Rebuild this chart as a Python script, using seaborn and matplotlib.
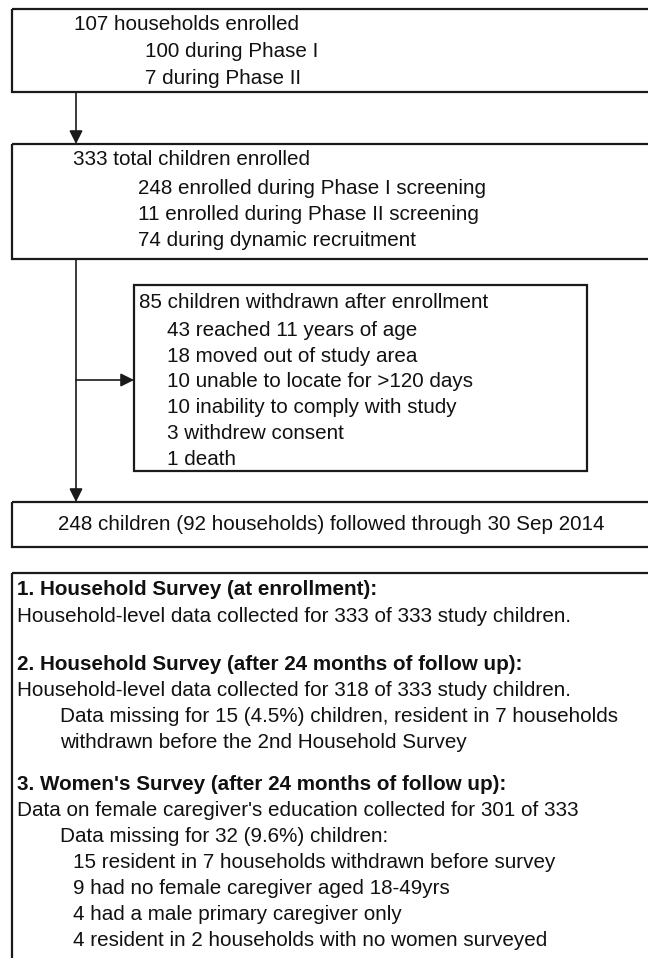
import matplotlib
matplotlib.use('Agg')
import matplotlib.pyplot as plt
from matplotlib.patches import Rectangle
import seaborn as sns

# 흐름도 텍스트 데이터
households_title = "107 households enrolled"
households_phases = ["100 during Phase I", "7 during Phase II"]

children_title = "333 total children enrolled"
children_sources = ["248 enrolled during Phase I screening",
                    "11 enrolled during Phase II screening",
                    "74 during dynamic recruitment"]

withdrawn_title = "85 children withdrawn after enrollment"
withdrawn_reasons = ["43 reached 11 years of age",
                     "18 moved out of study area",
                     "10 unable to locate for >120 days",
                     "10 inability to comply with study",
                     "3 withdrew consent",
                     "1 death"]

followed_text = "248 children (92 households) followed through 30 Sep 2014"

survey_titles = ["1. Household Survey (at enrollment):",
                 "2. Household Survey (after 24 months of follow up):",
                 "3. Women's Survey (after 24 months of follow up):"]
survey_main = ["Household-level data collected for 333 of 333 study children.",
               "Household-level data collected for 318 of 333 study children.",
               "Data on female caregiver's education collected for 301 of 333"]
survey_missing = [[],
                  ["Data missing for 15 (4.5%) children, resident in 7 households",
                   "withdrawn before the 2nd Household Survey"],
                  ["Data missing for 32 (9.6%) children:"]]
women_missing_reasons = ["15 resident in 7 households withdrawn before survey",
                         "9 had no female caregiver aged 18-49yrs",
                         "4 had a male primary caregiver only",
                         "4 resident in 2 households with no women surveyed"]

sns.set_theme(style='white')
plt.rcParams['font.family'] = ['Liberation Sans', 'DejaVu Sans']

LINE = '#1a1a1a'
FS = 14.9
LW_BOX = 1.6
LW_ARROW = 1.2

fig = plt.figure(figsize=(6.48, 9.58), dpi=100)
ax = fig.add_axes([0, 0, 1, 1])
ax.set_xlim(0, 648)
ax.set_ylim(958, 0)
ax.axis('off')


def box(x0, y0, x1, y1):
    ax.add_patch(Rectangle((x0, y0), x1 - x0, y1 - y0, fill=False,
                           edgecolor=LINE, linewidth=LW_BOX))


def line_text(x, y, s, bold=False, ha='left'):
    # y는 글자의 시각적 중심, 기준선은 약간 아래
    ax.text(x, y + 6, s, ha=ha, va='baseline', fontsize=FS, color='#111111',
            fontweight='bold' if bold else 'normal')


def arrow(x0, y0, x1, y1, head=True):
    style = '-|>,head_length=0.8,head_width=0.4' if head else '-'
    ax.annotate('', xy=(x1, y1), xytext=(x0, y0),
                arrowprops=dict(arrowstyle=style, mutation_scale=10, color=LINE,
                                lw=LW_ARROW, shrinkA=0, shrinkB=0))


# 1. 가구 등록
box(12, 9, 720, 92)
line_text(74, 24, households_title)
for i, s in enumerate(households_phases):
    line_text(145, 51 + i * 27, s)

arrow(76, 92, 76, 144)

# 2. 아동 등록
box(12, 144, 720, 259)
line_text(73, 159, children_title)
for i, s in enumerate(children_sources):
    line_text(138, 188 + i * 26, s)

# 탈락 박스로 가는 화살표와 최종 박스로 가는 화살표
arrow(76, 259, 76, 502)
arrow(76, 380, 134, 380)

# 3. 탈락
box(134, 285, 587, 471)
line_text(139, 302, withdrawn_title)
for i, s in enumerate(withdrawn_reasons):
    line_text(167, 330 + i * 25.7, s)

# 4. 추적 완료
box(12, 502, 720, 547)
line_text(331, 524, followed_text, ha='center')

# 5. 설문 요약 박스
box(12, 573, 720, 1100)
y = 589
for k in range(3):
    line_text(17, y, survey_titles[k], bold=True)
    y += 26.5
    line_text(17, y, survey_main[k])
    for s in survey_missing[k]:
        y += 26
        line_text(60, y, s)
    if k == 2:
        for s in women_missing_reasons:
            y += 26
            line_text(73, y, s)
    y += 48 if k == 0 else 42

fig.savefig('out.png', dpi=100)
